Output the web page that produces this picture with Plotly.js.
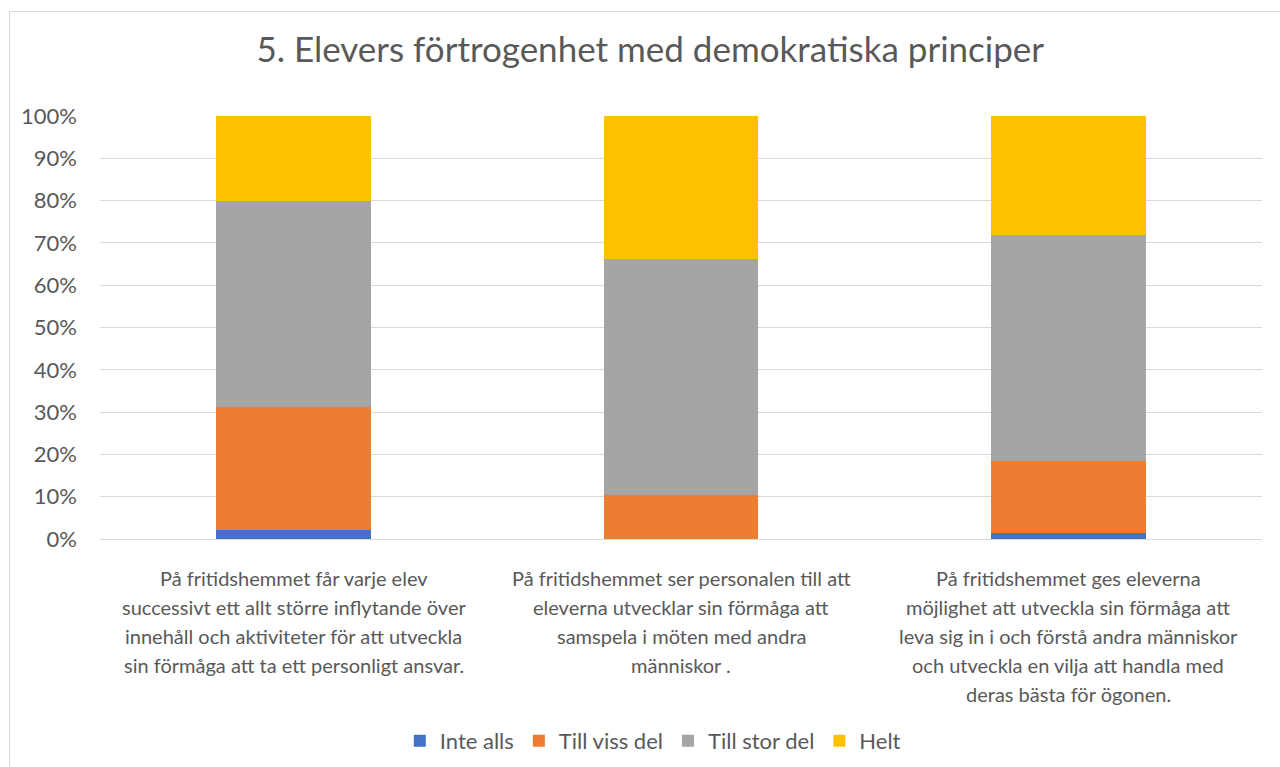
<!DOCTYPE html>
<html>
<head>
<meta charset="utf-8">
<script src="https://cdn.plot.ly/plotly-3.0.1.min.js"></script>
<style>
  body { margin: 0; background: #fff; }
  #chart { position: absolute; left: 0; top: 0; width: 1280px; height: 767px; }
  #frame { position: absolute; left: 9px; top: 11px; width: 1290px; height: 780px;
           border: 1px solid #d9d9d9; pointer-events: none; }
</style>
</head>
<body>
<div id="chart"></div>
<div id="frame"></div>
<script>
// category labels, one array of lines per bar
var catLines = [
  ['På fritidshemmet får varje elev',
   'successivt ett allt större inflytande över',
   'innehåll och aktiviteter för att utveckla',
   'sin förmåga att ta ett personligt ansvar.'],
  ['På fritidshemmet ser personalen till att',
   'eleverna utvecklar sin förmåga att',
   'samspela i möten med andra',
   'människor .'],
  ['På fritidshemmet ges eleverna',
   'möjlighet att utveckla sin förmåga att',
   'leva sig in i och förstå andra människor',
   'och utveckla en vilja att handla med',
   'deras bästa för ögonen.']
]
var categories = catLines.map(function (l) { return l.join(' ') })

// percentages
var inteAlls = [2.1, 0, 1.4]
var tillVissDel = [29.1, 10.4, 17.0]
var tillStorDel = [48.6, 55.8, 53.5]
var helt = [20.2, 33.8, 28.1]

var seriesNames = ['Inte alls', 'Till viss del', 'Till stor del', 'Helt']
var seriesValues = [inteAlls, tillVissDel, tillStorDel, helt]
var seriesColors = ['#4472C4', '#ED7D31', '#A5A5A5', '#FFC000']

var yTicks = [0, 10, 20, 30, 40, 50, 60, 70, 80, 90, 100]

var textColor = '#595959'
var fontFamily = 'Lato, "Open Sans", sans-serif'

var data = seriesNames.map(function (name, i) {
  return {
    type: 'bar',
    name: name,
    x: categories,
    y: seriesValues[i],
    marker: { color: seriesColors[i] },
    hoverinfo: 'name+y'
  }
})

// category labels drawn line by line to get Excel-like spacing
var annotations = []
catLines.forEach(function (lines, c) {
  lines.forEach(function (line, k) {
    annotations.push({
      x: categories[c],
      y: 0,
      xref: 'x',
      yref: 'y',
      text: line,
      showarrow: false,
      xanchor: 'center',
      yanchor: 'middle',
      yshift: -39 - k * 29,
      font: { size: 20, color: textColor, family: fontFamily }
    })
  })
})

var layout = {
  width: 1280,
  height: 767,
  margin: { l: 100, r: 18, t: 116, b: 228, autoexpand: false },
  paper_bgcolor: '#ffffff',
  plot_bgcolor: '#ffffff',
  font: { family: fontFamily, color: textColor },
  title: {
    text: '5. Elevers förtrogenhet med demokratiska principer',
    font: { size: 35, color: textColor, family: fontFamily },
    xref: 'container',
    x: 0.508,
    xanchor: 'center',
    yref: 'container',
    y: 0.935,
    yanchor: 'middle'
  },
  barmode: 'stack',
  bargap: 0.6,
  xaxis: {
    type: 'category',
    showticklabels: false,
    showgrid: false,
    zeroline: false,
    showline: false,
    ticks: ''
  },
  yaxis: {
    range: [0, 100],
    tickvals: yTicks,
    ticktext: yTicks.map(function (v) { return v + '%' }),
    showgrid: true,
    gridcolor: '#d9d9d9',
    gridwidth: 1,
    zeroline: true,
    zerolinecolor: '#d9d9d9',
    zerolinewidth: 1,
    showline: false,
    ticks: '',
    ticklabelstandoff: 22,
    tickfont: { size: 22, color: textColor, family: fontFamily }
  },
  showlegend: true,
  legend: {
    orientation: 'h',
    x: 0.51,
    xref: 'container',
    xanchor: 'center',
    y: 0.034,
    yref: 'container',
    yanchor: 'middle',
    font: { size: 22, color: textColor, family: fontFamily },
    traceorder: 'normal',
    itemwidth: 30
  },
  annotations: annotations
}

Plotly.newPlot('chart', data, layout, { displayModeBar: false, staticPlot: true })
</script>
</body>
</html>
